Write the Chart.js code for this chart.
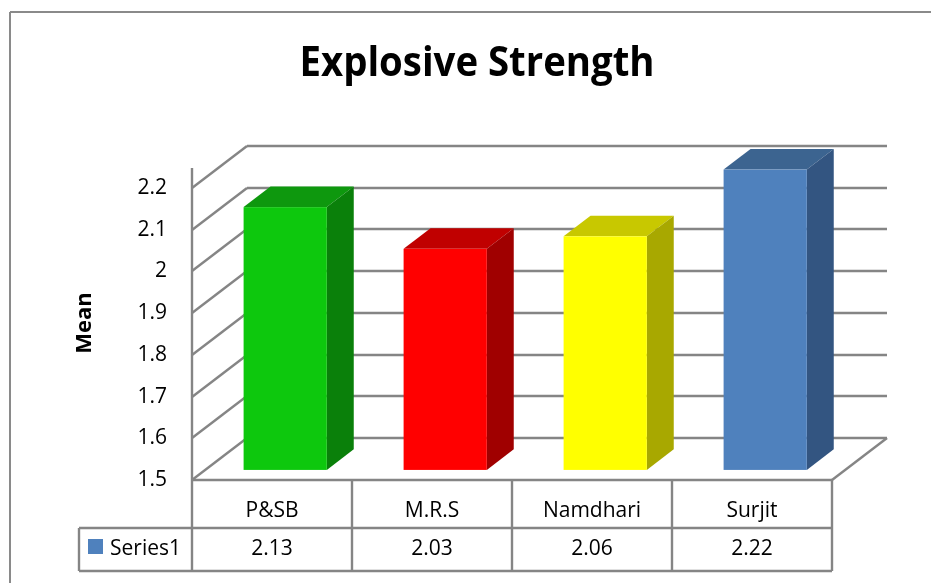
<!DOCTYPE html>
<html>
<head>
<meta charset="utf-8">
<script src="https://cdn.jsdelivr.net/npm/chart.js@4.4.1/dist/chart.umd.min.js"></script>
<style>
  html, body { margin: 0; padding: 0; background: #fff; }
  #wrap { width: 931px; height: 583px; position: relative; }
</style>
</head>
<body>
<div id="wrap"><canvas id="chart"></canvas></div>
<script>
const categories = ['P&SB', 'M.R.S', 'Namdhari', 'Surjit']
const means = [2.13, 2.03, 2.06, 2.22]
const seriesName = 'Series1'
const chartTitle = 'Explosive Strength'
const axisTitle = 'Mean'
const yMin = 1.5
const yMax = 2.2
const yStep = 0.1

const frontColors = ['#0dc80d', '#ff0000', '#ffff00', '#4f81bd']
const topColors = ['#0e980e', '#c00000', '#c8c800', '#3c6490']
const sideColors = ['#0a800a', '#a00000', '#a8a800', '#335581']

const GRID = '#858585'
const FONT = '"Open Sans", "Liberation Sans", sans-serif'
const DEPTH = { x: 55, y: -42 }  // floor depth, front edge -> back wall
const BAR_FRONT = 0.24
const BAR_BACK = 0.73

function seg(ctx, x1, y1, x2, y2) {
  ctx.beginPath()
  ctx.moveTo(x1, y1)
  ctx.lineTo(x2, y2)
  ctx.stroke()
}

function poly(ctx, pts, color) {
  ctx.beginPath()
  pts.forEach(([x, y], i) => i ? ctx.lineTo(x, y) : ctx.moveTo(x, y))
  ctx.closePath()
  ctx.fillStyle = color
  ctx.fill()
}

const excel3d = {
  id: 'excel3d',
  beforeDraw(chart) {
    const { ctx, width, height } = chart
    ctx.save()
    ctx.fillStyle = '#fff'
    ctx.fillRect(0, 0, width, height)
    // outer chart frame (cut off at right and bottom)
    ctx.strokeStyle = '#8a8a8a'
    ctx.lineWidth = 2
    seg(ctx, 10, 12, 10, height + 5)
    seg(ctx, 10, 12, width + 5, 12)
    ctx.restore()
  },
  beforeDatasetsDraw(chart) {
    const { ctx, chartArea: a, scales: { y } } = chart
    ctx.save()
    ctx.strokeStyle = GRID
    ctx.lineWidth = 2.4
    // back wall gridlines + side wall diagonals
    y.ticks.forEach(t => {
      const py = Math.round(y.getPixelForValue(t.value))
      seg(ctx, a.left, py, a.left + DEPTH.x, py + DEPTH.y)
      seg(ctx, a.left + DEPTH.x, py + DEPTH.y, a.right + DEPTH.x, py + DEPTH.y)
    })
    // floor
    seg(ctx, a.right, a.bottom, a.right + DEPTH.x, a.bottom + DEPTH.y)
    seg(ctx, a.left, a.bottom, a.right, a.bottom)
    ctx.restore()
  },
  beforeDatasetDraw() {
    return false
  },
  afterDatasetsDraw(chart) {
    const { ctx } = chart
    const meta = chart.getDatasetMeta(0)
    const dx = (BAR_BACK - BAR_FRONT) * DEPTH.x
    const dy = (BAR_BACK - BAR_FRONT) * DEPTH.y
    ctx.save()
    meta.data.forEach((bar, i) => {
      const { x, y, base, width } = bar.getProps(['x', 'y', 'base', 'width'], true)
      const x0 = x - width / 2 + BAR_FRONT * DEPTH.x
      const x1 = x0 + width
      const yt = y + BAR_FRONT * DEPTH.y
      const yb = base + BAR_FRONT * DEPTH.y
      poly(ctx, [[x0, yt], [x1, yt], [x1 + dx, yt + dy], [x0 + dx, yt + dy]], topColors[i])
      poly(ctx, [[x1, yt], [x1 + dx, yt + dy], [x1 + dx, yb + dy], [x1, yb]], sideColors[i])
      ctx.fillStyle = frontColors[i]
      ctx.fillRect(x0, yt, width, yb - yt)
    })
    ctx.restore()
  },
  afterDraw(chart) {
    const { ctx, chartArea: a, scales: { x } } = chart
    const rowMid = a.bottom + 48
    const rowBot = a.bottom + 91
    const keyLeft = 79
    const half = (x.getPixelForValue(1) - x.getPixelForValue(0)) / 2
    ctx.save()

    // data table grid
    ctx.strokeStyle = GRID
    ctx.lineWidth = 2.4
    seg(ctx, a.left, a.top - 20, a.left, rowBot)
    seg(ctx, keyLeft, rowMid, a.right, rowMid)
    seg(ctx, keyLeft, rowBot, a.right, rowBot)
    seg(ctx, keyLeft, rowMid, keyLeft, rowBot)
    categories.forEach((c, i) => {
      const r = x.getPixelForValue(i) + half
      seg(ctx, r, a.bottom, r, rowBot)
    })

    // table text
    ctx.fillStyle = '#000'
    ctx.font = '21px ' + FONT
    ctx.textAlign = 'center'
    ctx.textBaseline = 'middle'
    categories.forEach((c, i) => {
      const cx = x.getPixelForValue(i)
      ctx.fillText(c, cx, a.bottom + 31)
      ctx.fillText(means[i].toFixed(2), cx, rowMid + 21)
    })
    ctx.textAlign = 'left'
    ctx.fillText(seriesName, 110, rowMid + 21)
    ctx.fillStyle = frontColors[3]
    ctx.fillRect(88, rowMid + 11, 15, 15)

    // chart title, squeezed to the width of the original
    ctx.fillStyle = '#000'
    ctx.font = 'bold 42px ' + FONT
    ctx.textAlign = 'center'
    ctx.textBaseline = 'alphabetic'
    const tw = ctx.measureText(chartTitle).width
    ctx.translate(477, 76)
    ctx.scale(355 / tw, 1)
    ctx.fillText(chartTitle, 0, 0)
    ctx.restore()

    // vertical axis title
    ctx.save()
    ctx.fillStyle = '#000'
    ctx.font = 'bold 22px ' + FONT
    ctx.textAlign = 'center'
    ctx.textBaseline = 'middle'
    ctx.translate(85, 323)
    ctx.rotate(-Math.PI / 2)
    ctx.fillText(axisTitle, 0, 0)
    ctx.restore()
  }
}

new Chart(document.getElementById('chart'), {
  type: 'bar',
  data: {
    labels: categories,
    datasets: [{
      label: seriesName,
      data: means,
      base: yMin,
      backgroundColor: frontColors,
      categoryPercentage: 1,
      barPercentage: 0.52
    }]
  },
  options: {
    responsive: true,
    maintainAspectRatio: false,
    animation: false,
    events: [],
    layout: { padding: { left: 0, top: 188, right: 99, bottom: 103 } },
    plugins: {
      legend: { display: false },
      title: { display: false },
      tooltip: { enabled: false }
    },
    scales: {
      x: {
        display: false,
        offset: true
      },
      y: {
        min: yMin,
        max: yMax,
        afterFit(axis) { axis.width = 192 },
        grid: { display: false, drawTicks: false, tickLength: 0 },
        border: { display: false },
        ticks: {
          stepSize: yStep,
          padding: 25,
          color: '#000',
          font: { family: FONT, size: 21 },
          callback: v => String(Number(v.toFixed(1)))
        }
      }
    }
  },
  plugins: [excel3d]
})
</script>
</body>
</html>
